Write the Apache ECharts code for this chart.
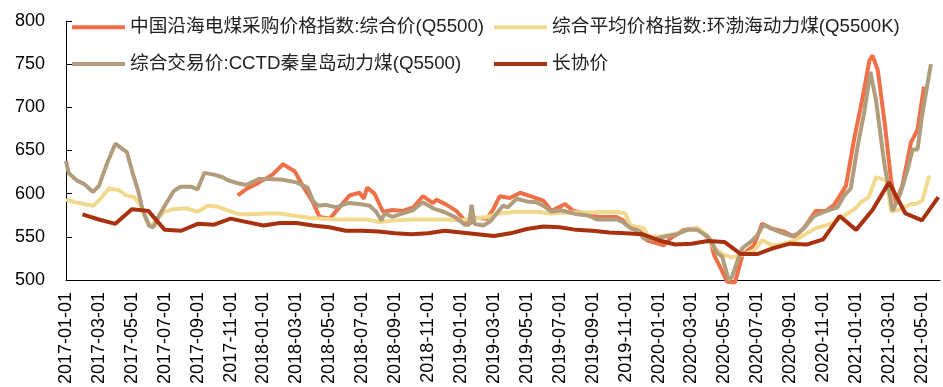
<!DOCTYPE html>
<html>
<head>
<meta charset="utf-8">
<script src="https://cdn.jsdelivr.net/npm/echarts@6/dist/echarts.min.js"></script>
<style>
  html, body { margin: 0; padding: 0; background: #fff; }
  #chart { width: 943px; height: 387px; }
</style>
</head>
<body>
<div id="chart"></div>
<script>
// Series names (legend text)
const seriesNames = [
  '中国沿海电煤采购价格指数:综合价(Q5500)',
  '综合平均价格指数:环渤海动力煤(Q5500K)',
  '综合交易价:CCTD秦皇岛动力煤(Q5500)',
  '长协价'
];

// 中国沿海电煤采购价格指数:综合价(Q5500), weekly readings
const coastalDates = [
  '2017-11-14','2017-11-29','2017-12-24','2018-01-18','2018-02-06','2018-02-26','2018-03-13','2018-04-01',
  '2018-04-13','2018-05-02','2018-05-17','2018-06-08','2018-06-26','2018-07-04','2018-07-10','2018-07-24',
  '2018-08-09','2018-08-27','2018-09-15','2018-10-04','2018-10-22','2018-11-10','2018-11-16','2018-12-05',
  '2018-12-23','2019-01-08','2019-01-17','2019-01-30','2019-02-17','2019-02-28','2019-03-12','2019-03-31',
  '2019-04-19','2019-05-13','2019-06-01','2019-06-16','2019-07-11','2019-07-26','2019-08-21','2019-09-09',
  '2019-10-15','2019-10-27','2019-11-10','2019-11-28','2019-12-10','2020-01-11','2020-01-23','2020-02-16',
  '2020-03-12','2020-03-30','2020-04-06','2020-04-12','2020-04-24','2020-05-06','2020-05-21','2020-06-04',
  '2020-06-25','2020-07-10','2020-07-26','2020-08-20','2020-09-08','2020-09-26','2020-10-18','2020-11-06',
  '2020-11-21','2020-12-13','2020-12-28','2021-01-13','2021-01-26','2021-02-01','2021-02-10','2021-02-22',
  '2021-03-05','2021-03-14','2021-03-26','2021-04-11','2021-04-23','2021-05-05'
];
const coastalValues = [
  598, 605, 613, 622, 634, 626, 609, 590,
  573, 571, 582, 598, 601, 594, 607, 600,
  579, 581, 580, 584, 597, 589, 593, 587,
  580, 569, 565, 572, 571, 582, 597, 595,
  601, 596, 592, 580, 588, 580, 577, 573,
  573, 569, 560, 556, 546, 540, 548, 558,
  560, 550, 546, 529, 514, 498, 497, 529,
  540, 565, 560, 556, 550, 560, 580, 580,
  587, 609, 662, 710, 754, 760, 743, 680,
  615, 590, 609, 659, 674, 724
];

// 综合平均价格指数:环渤海动力煤(Q5500K)
const bohaiDates = [
  '2017-01-01','2017-01-19','2017-02-19','2017-03-01','2017-03-20','2017-04-08','2017-04-20','2017-05-05',
  '2017-05-18','2017-05-27','2017-06-06','2017-06-18','2017-06-30','2017-07-18','2017-08-10','2017-09-01',
  '2017-09-19','2017-10-07','2017-10-29','2017-11-17','2017-12-12','2018-01-06','2018-01-31','2018-03-01',
  '2018-03-25','2018-04-19','2018-05-14','2018-06-08','2018-07-09','2018-08-03','2018-09-03','2018-10-04',
  '2018-11-04','2018-12-05','2018-12-29','2019-01-23','2019-02-17','2019-03-12','2019-04-12','2019-05-19',
  '2019-06-13','2019-07-20','2019-08-27','2019-10-15','2019-10-31','2019-11-10','2019-12-04','2019-12-13',
  '2020-01-11','2020-02-05','2020-02-22','2020-03-12','2020-03-30','2020-04-12','2020-04-30','2020-05-15',
  '2020-06-04','2020-06-25','2020-07-10','2020-07-29','2020-08-20','2020-09-11','2020-09-26','2020-10-18',
  '2020-11-06','2020-11-21','2020-12-16','2020-12-31','2021-01-10','2021-01-25','2021-02-07','2021-02-25',
  '2021-03-05','2021-03-23','2021-04-11','2021-04-20','2021-05-02','2021-05-15'
];
const bohaiValues = [
  593, 590, 586, 592, 606, 604, 598, 596,
  586, 571, 562, 571, 579, 582, 583, 579,
  586, 585, 580, 576, 576, 577, 577, 574,
  572, 571, 570, 570, 570, 567, 569, 570,
  570, 570, 569, 571, 573, 577, 579, 579,
  577, 578, 578, 579, 577, 563, 560, 550,
  551, 554, 558, 560, 552, 537, 529, 526,
  529, 534, 546, 540, 542, 546, 552, 560,
  563, 567, 577, 583, 590, 596, 619, 615,
  579, 582, 588, 588, 592, 621
];

// 综合交易价:CCTD秦皇岛动力煤(Q5500)
const cctdDates = [
  '2017-01-01','2017-01-06','2017-01-22','2017-02-04','2017-02-19','2017-03-01','2017-03-17','2017-04-01',
  '2017-04-11','2017-04-22','2017-05-02','2017-05-13','2017-05-21','2017-06-02','2017-06-10','2017-06-21',
  '2017-07-03','2017-07-18','2017-07-31','2017-08-19','2017-09-01','2017-09-13','2017-10-01','2017-10-17',
  '2017-10-29','2017-11-14','2017-11-29','2017-12-24','2018-01-12','2018-02-06','2018-03-01','2018-03-22',
  '2018-04-01','2018-04-10','2018-04-25','2018-05-14','2018-06-05','2018-06-26','2018-07-15','2018-07-27',
  '2018-08-06','2018-08-12','2018-08-27','2018-09-15','2018-10-04','2018-10-22','2018-11-10','2018-11-29',
  '2018-12-20','2019-01-08','2019-01-16','2019-01-21','2019-01-26','2019-02-11','2019-02-23','2019-03-06',
  '2019-03-18','2019-03-27','2019-04-12','2019-05-01','2019-05-19','2019-06-01','2019-06-16','2019-07-02',
  '2019-07-14','2019-08-02','2019-08-21','2019-09-09','2019-09-27','2019-10-15','2019-10-27','2019-11-10',
  '2019-11-22','2019-12-04','2019-12-23','2020-01-11','2020-02-05','2020-02-22','2020-03-12','2020-03-30',
  '2020-04-06','2020-04-18','2020-04-27','2020-05-09','2020-05-15','2020-05-25','2020-06-04','2020-06-19',
  '2020-07-01','2020-07-13','2020-07-26','2020-08-14','2020-09-02','2020-09-14','2020-09-26','2020-10-15',
  '2020-11-03','2020-11-12','2020-11-27','2020-12-10','2020-12-22','2021-01-04','2021-01-16','2021-01-28',
  '2021-02-07','2021-02-21','2021-03-08','2021-03-23','2021-04-05','2021-04-14','2021-04-23','2021-05-02',
  '2021-05-18'
];
const cctdValues = [
  638, 624, 615, 611, 602, 609, 636, 658,
  653, 648, 625, 603, 582, 563, 561, 575,
  588, 603, 608, 608, 605, 624, 622, 619,
  615, 612, 610, 617, 617, 616, 613, 607,
  592, 586, 587, 584, 589, 588, 586, 579,
  569, 577, 573, 577, 581, 590, 583, 579,
  573, 564, 564, 587, 565, 563, 568, 577,
  586, 584, 594, 591, 590, 586, 579, 581,
  579, 576, 575, 570, 570, 570, 567, 560,
  558, 548, 547, 550, 553, 558, 558, 551,
  546, 531, 527, 500, 503, 521, 537, 544,
  552, 564, 560, 555, 551, 553, 560, 574,
  579, 581, 584, 598, 606, 655, 693, 741,
  708, 635, 580, 601, 628, 651, 651, 693,
  750
];

// 长协价, monthly from 2017-02
const contractStart = '2017-02';
const contractValues = [
  576, 570, 565, 582, 580, 558, 557, 565, 564, 571, 567, 563,
  566, 566, 563, 561, 557, 557, 556, 554, 553, 554, 557, 555,
  553, 551, 554, 559, 562, 561, 558, 557, 555, 554, 553, 546,
  541, 542, 545, 544, 530, 530, 537, 542, 541, 547, 574, 558,
  581, 613, 577, 569, 596
];

// Y axis ticks
const yMin = 500, yMax = 800, yStep = 50;

const colors = ['#EF6F47', '#F1DA8D', '#B19C7C', '#A8310F'];
const FONT = "'Liberation Sans', Arial, 'Noto Sans CJK SC', sans-serif";
const BASE_YEAR = 2017;

// Date string -> months elapsed since 2017-01-01 (fractional)
function monthIndex(s) {
  const p = s.split('-').map(Number);
  const y = p[0], m = p[1], d = p[2] || 1;
  const dim = new Date(y, m, 0).getDate();
  return (y - BASE_YEAR) * 12 + (m - 1) + (d - 1) / dim;
}
function pairs(dates, values) {
  return dates.map((d, i) => [monthIndex(d), values[i]]);
}
const contractData = contractValues.map((v, i) => [monthIndex(contractStart + '-01') + i, v]);

function fmtMonth(v) {
  const r = Math.round(v);
  if (Math.abs(v - r) > 1e-6 || r % 2 !== 0) return '';
  const y = BASE_YEAR + Math.floor(r / 12);
  const m = (r % 12) + 1;
  return y + '-' + (m < 10 ? '0' + m : m) + '-01';
}

const lineSeries = (name, data, color) => ({
  name, type: 'line', data, symbol: 'none', clip: false,
  lineStyle: { width: 4, color }, itemStyle: { color },
  emphasis: { disabled: true }
});

const legendBase = {
  orient: 'vertical', top: 18, padding: 0,
  icon: 'rect', itemWidth: 53, itemHeight: 4, itemGap: 18,
  textStyle: { fontSize: 18.7, color: '#222', fontFamily: FONT }
};

const chart = echarts.init(document.getElementById('chart'), null, { renderer: 'canvas' });
chart.setOption({
  animation: false,
  backgroundColor: '#fff',
  grid: { left: 66, right: 3, top: 21, bottom: 105 },
  legend: [
    Object.assign({}, legendBase, { data: [seriesNames[0], seriesNames[2]], left: 72 }),
    Object.assign({}, legendBase, { data: [seriesNames[1], seriesNames[3]], left: 494 })
  ],
  xAxis: {
    type: 'value', min: 0, max: 53.1, interval: 2,
    axisLine: { show: true, lineStyle: { color: '#000', width: 1 } },
    axisTick: { show: false },
    splitLine: { show: false },
    axisLabel: {
      rotate: 90, margin: 12, fontSize: 18, color: '#000', fontFamily: FONT,
      showMaxLabel: false, formatter: fmtMonth
    }
  },
  yAxis: {
    type: 'value', min: yMin, max: yMax, interval: yStep,
    axisLine: { show: true, lineStyle: { color: '#000', width: 1 } },
    axisTick: { show: true, inside: true, length: 6, lineStyle: { color: '#000' } },
    splitLine: { show: false },
    axisLabel: { margin: 21, fontSize: 18, color: '#000', fontFamily: FONT }
  },
  series: [
    lineSeries(seriesNames[0], pairs(coastalDates, coastalValues), colors[0]),
    lineSeries(seriesNames[1], pairs(bohaiDates, bohaiValues), colors[1]),
    lineSeries(seriesNames[2], pairs(cctdDates, cctdValues), colors[2]),
    lineSeries(seriesNames[3], contractData, colors[3])
  ]
});
</script>
</body>
</html>
